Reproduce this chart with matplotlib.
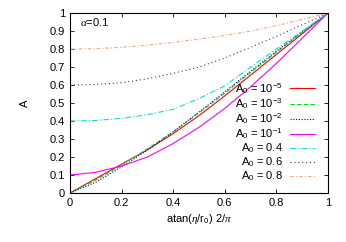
import matplotlib
matplotlib.use('Agg')
import matplotlib.pyplot as plt
from matplotlib.ticker import FuncFormatter

plt.rcParams['font.family'] = ['Liberation Sans', 'DejaVu Sans']
plt.rcParams['mathtext.fontset'] = 'custom'
plt.rcParams['mathtext.rm'] = 'Liberation Sans'
plt.rcParams['mathtext.it'] = 'Liberation Serif:italic'

x = [0, 0.1, 0.2, 0.3, 0.4, 0.5, 0.6, 0.7, 0.8, 0.9, 1.0]
a_1e5 = [0, 0.08, 0.16, 0.24, 0.33, 0.43, 0.54, 0.655, 0.77, 0.885, 1.0]
a_1e3 = [0, 0.072, 0.155, 0.245, 0.34, 0.445, 0.555, 0.67, 0.782, 0.893, 1.0]
a_1e2 = [0, 0.06, 0.145, 0.238, 0.34, 0.45, 0.562, 0.677, 0.788, 0.895, 1.0]
a_1e1 = [0.1, 0.115, 0.15, 0.2, 0.275, 0.365, 0.47, 0.59, 0.72, 0.86, 1.0]
a_04 = [0.4, 0.403, 0.415, 0.435, 0.465, 0.525, 0.595, 0.7, 0.8, 0.9, 1.0]
a_06 = [0.6, 0.603, 0.613, 0.635, 0.665, 0.7, 0.75, 0.81, 0.87, 0.935, 1.0]
a_08 = [0.8, 0.802, 0.81, 0.822, 0.837, 0.855, 0.875, 0.9, 0.93, 0.965, 1.0]

labels = [r'A$_0$ = 10$^{-5}$', r'A$_0$ = 10$^{-3}$', r'A$_0$ = 10$^{-2}$',
          r'A$_0$ = 10$^{-1}$', r'A$_0$ = 0.4', r'A$_0$ = 0.6', r'A$_0$ = 0.8']
series = [a_1e5, a_1e3, a_1e2, a_1e1, a_04, a_06, a_08]
colors = ['#ff0000', '#00e000', '#0000ff', '#ff00ff', '#00e0e0', '#404040', '#ffa07a']
styles = ['-', (0, (4, 2)), (0, (1, 1.5)), '-', (0, (5, 2, 1, 2)), (0, (1, 2.5)), (0, (3, 2, 1, 2))]

fig = plt.figure(figsize=(3.46, 2.42), dpi=100)
ax = fig.add_axes([0.2023, 0.2025, 0.7457, 0.7435])

for y, lab, c, ls in zip(series, labels, colors, styles):
    ax.plot(x, y, color=c, linestyle=ls, linewidth=0.8, label=lab)

ax.set_xlim(0, 1)
ax.set_ylim(0, 1)
ax.set_xticks([0, 0.2, 0.4, 0.6, 0.8, 1.0])
ax.set_yticks([i / 10 for i in range(11)])
fmt = FuncFormatter(lambda v, p: '%g' % round(v, 2))
ax.xaxis.set_major_formatter(fmt)
ax.yaxis.set_major_formatter(fmt)
ax.tick_params(direction='in', top=True, right=True, labelsize=8, length=3, width=0.6)
for s in ax.spines.values():
    s.set_linewidth(0.8)

ax.set_xlabel(r'atan($\eta$/r$_0$) 2/$\pi$', fontsize=8, labelpad=3)
ax.set_ylabel('A', fontsize=8, labelpad=14)
ax.text(0.04, 0.93, r'$\alpha$=0.1', transform=ax.transAxes, fontsize=8)

leg = ax.legend(loc='lower right', bbox_to_anchor=(0.98, 0.01), fontsize=8,
                frameon=False, markerfirst=False, handlelength=2.3,
                handletextpad=0.6, labelspacing=0.05, borderaxespad=0.3)
for t in leg.get_texts():
    t.set_ha('right')
    t.set_position((0, 0))

fig.savefig('out.png', dpi=100)
